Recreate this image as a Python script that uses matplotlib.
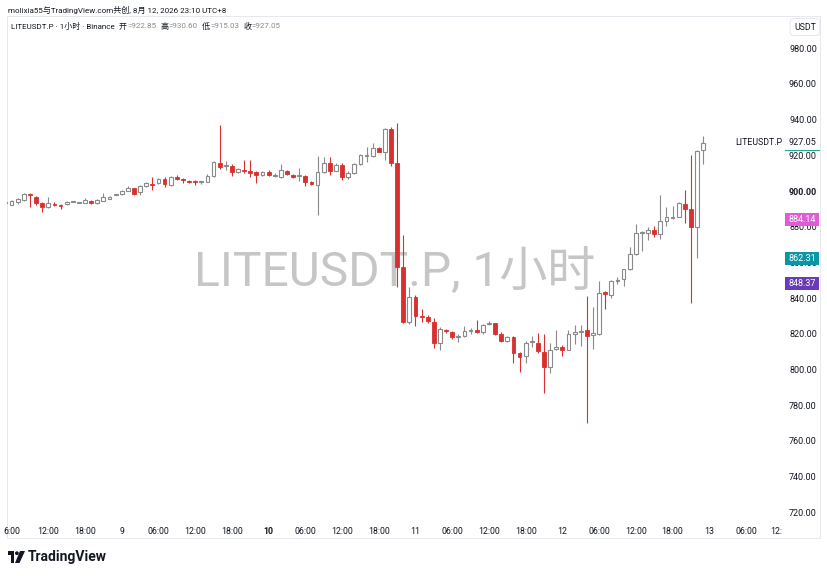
import numpy as np
import matplotlib
matplotlib.use('Agg')
import matplotlib.pyplot as plt
from matplotlib.patches import Rectangle, Polygon, Circle
from matplotlib.transforms import blended_transform_factory

plt.rcParams['font.family'] = ['Roboto', 'Noto Sans CJK SC', 'DejaVu Sans']

# hourly candles, 8th 05:00 .. 12th 23:00 (hour index counted from 8th 00:00)
hours = np.arange(5, 120)

opens = [
    893.2, 892.4, 893.6, 895.0, 898.3, 896.8, 893.4, 890.9, 893.0, 892.2,
    892.7, 893.9, 893.3, 893.4, 894.4, 893.1, 894.6, 895.7, 898.0, 898.3,
    900.2, 901.5, 899.5, 902.8, 903.8, 904.3, 906.9, 903.4, 908.0, 906.6,
    905.6, 905.2, 904.9, 905.2, 908.4, 915.9, 914.2, 914.2, 910.8, 911.5,
    911.1, 910.4, 909.0, 910.8, 908.6, 908.0, 911.4, 909.0, 908.3, 908.4,
    905.2, 903.4, 910.8, 915.8, 911.4, 914.6, 907.7, 910.3, 915.1, 919.5,
    919.6, 923.9, 922.0, 934.6, 915.5, 857.6, 826.8, 840.8, 830.2, 829.6,
    826.8, 815.0, 822.4, 821.2, 818.2, 818.8, 821.6, 822.1, 821.0, 825.3,
    825.9, 819.7, 816.2, 818.4, 809.1, 807.6, 815.4, 815.0, 810.0, 801.6,
    811.3, 812.8, 811.0, 819.9, 821.3, 822.2, 819.3, 819.9, 843.3, 841.8,
    849.8, 850.5, 856.5, 864.7, 876.6, 876.6, 878.2, 875.8, 883.2, 885.1,
    885.6, 892.7, 889.8, 879.7, 922.85]
highs = [
    893.8, 894.9, 896.0, 899.0, 898.8, 897.5, 894.0, 896.5, 894.0, 892.6,
    894.5, 894.3, 893.9, 896.2, 894.8, 895.3, 898.7, 897.2, 898.6, 900.6,
    902.8, 901.9, 903.6, 904.8, 907.8, 907.3, 908.0, 908.5, 909.0, 907.5,
    906.2, 906.0, 905.4, 909.8, 917.0, 937.0, 916.7, 915.3, 912.8, 917.4,
    917.4, 911.0, 911.5, 912.0, 909.9, 915.1, 912.0, 909.6, 912.7, 908.8,
    905.5, 919.6, 918.9, 919.3, 915.6, 915.6, 911.5, 915.5, 921.0, 924.5,
    927.2, 924.8, 935.2, 936.0, 937.9, 875.4, 846.4, 841.5, 833.7, 830.5,
    828.7, 823.6, 822.9, 821.8, 820.1, 824.3, 823.5, 827.8, 825.6, 827.3,
    826.3, 821.0, 818.8, 818.8, 809.6, 815.8, 818.8, 820.6, 819.9, 815.0,
    822.2, 814.0, 822.2, 825.0, 825.0, 841.2, 835.2, 849.6, 843.8, 850.2,
    851.6, 856.6, 868.8, 881.3, 877.6, 880.0, 880.5, 897.8, 891.2, 891.8,
    893.6, 900.6, 920.2, 923.0, 930.6]
lows = [
    892.9, 892.0, 892.5, 894.5, 891.2, 892.0, 888.4, 890.5, 891.5, 889.7,
    892.4, 893.6, 893.1, 893.2, 892.8, 892.9, 894.3, 895.4, 897.6, 897.8,
    899.9, 897.8, 898.0, 902.5, 900.5, 904.0, 902.0, 903.0, 906.2, 904.3,
    904.6, 903.5, 904.0, 904.8, 908.0, 912.2, 912.0, 908.7, 910.3, 909.9,
    908.0, 904.3, 908.6, 908.5, 907.9, 907.5, 909.0, 907.5, 905.8, 902.8,
    903.3, 886.6, 910.3, 909.0, 911.0, 906.4, 907.0, 909.8, 914.6, 916.4,
    919.3, 921.6, 917.4, 914.0, 846.4, 826.0, 825.5, 824.4, 826.8, 826.3,
    811.9, 810.9, 820.6, 817.3, 815.4, 818.5, 820.0, 820.6, 820.2, 824.9,
    819.5, 815.5, 815.5, 803.5, 798.8, 803.8, 812.8, 809.5, 786.7, 797.9,
    811.0, 807.5, 810.7, 814.6, 813.2, 769.9, 811.3, 819.5, 833.9, 840.0,
    847.8, 846.8, 856.0, 864.3, 866.6, 872.7, 874.0, 873.3, 880.5, 884.6,
    885.2, 881.9, 837.4, 862.3, 915.03]
closes = [
    893.4, 894.2, 895.3, 898.3, 897.6, 893.4, 890.9, 893.1, 892.4, 891.9,
    894.0, 894.0, 893.5, 895.0, 893.1, 895.0, 896.5, 896.8, 898.3, 900.2,
    901.5, 898.3, 903.0, 904.3, 903.4, 906.7, 903.9, 908.0, 906.5, 906.2,
    905.0, 905.0, 905.1, 908.4, 916.4, 913.6, 914.6, 910.8, 912.3, 911.2,
    910.0, 909.0, 910.8, 909.0, 909.0, 911.8, 909.5, 908.0, 908.4, 905.2,
    903.9, 910.8, 915.8, 911.4, 914.6, 907.7, 910.3, 915.1, 920.2, 919.7,
    923.9, 922.0, 934.6, 915.5, 857.6, 826.8, 840.8, 830.0, 829.6, 827.4,
    815.0, 822.5, 821.5, 818.0, 818.4, 821.7, 821.8, 821.0, 825.0, 826.2,
    819.9, 816.2, 818.0, 809.4, 807.2, 815.0, 815.6, 810.6, 801.6, 811.0,
    812.8, 811.0, 819.9, 821.0, 821.6, 819.0, 820.3, 843.0, 842.2, 849.8,
    850.3, 856.1, 864.7, 876.6, 876.9, 878.2, 875.9, 883.2, 885.3, 885.5,
    893.1, 889.8, 879.7, 922.6, 927.05]

price_ticks = [720, 740, 760, 780, 800, 820, 840, 860, 880, 900, 920, 940, 960, 980]
time_ticks = [6, 12, 18, 24, 30, 36, 42, 48, 54, 60, 66, 72, 78, 84, 90, 96,
              102, 108, 114, 120, 126, 132]
time_labels = ['6:00', '12:00', '18:00', '9', '06:00', '12:00', '18:00', '10',
               '06:00', '12:00', '18:00', '11', '06:00', '12:00', '18:00', '12',
               '06:00', '12:00', '18:00', '13', '06:00', '12:']
marker_prices = [884.14, 862.31, 848.37]
marker_colors = ['#e15bd6', '#0a97a3', '#6a3bb8']
last_price = 927.05
ohlc_keys = ['开', '高', '低', '收']
ohlc_vals = ['=922.85', '=930.60', '=915.03', '=927.05']

RED = '#d9302f'
GREY = '#8a8a8a'
TXT = '#131722'

W, H = 828, 576
fig = plt.figure(figsize=(W / 100, H / 100), dpi=100, facecolor='white')


def px(x0, y0, x1, y1):
    return [x0 / W, 1 - y1 / H, (x1 - x0) / W, (y1 - y0) / H]


ov = fig.add_axes([0, 0, 1, 1], zorder=-1)
ov.set_xlim(0, W)
ov.set_ylim(H, 0)
ov.axis('off')

ax = fig.add_axes(px(7, 17, 785, 519))
ax.set_facecolor('none')

o = np.array(opens)
h = np.array(highs)
l = np.array(lows)
c = np.array(closes)
up = c >= o
bottom = np.minimum(o, c)
height = np.maximum(np.abs(c - o), 0.5)

ax.vlines(hours[up], l[up], h[up], color=GREY, lw=0.8, zorder=2)
ax.vlines(hours[~up], l[~up], h[~up], color=RED, lw=0.8, zorder=2)
ax.bar(hours[up], height[up], bottom=bottom[up], width=0.62, color='white',
       edgecolor=GREY, linewidth=0.8, zorder=3)
ax.bar(hours[~up], height[~up], bottom=bottom[~up], width=0.62, color=RED,
       edgecolor=RED, linewidth=0.6, zorder=3)

ax.set_xlim(5.25, 132.38)
ax.set_ylim(716.3, 997.5)
for s in ax.spines.values():
    s.set_visible(False)

ax.set_xticks(time_ticks)
ax.set_xticklabels(time_labels)
ax.tick_params(axis='x', length=0, pad=6, labelsize=6.3, labelcolor=TXT)
ax.get_xticklabels()[7].set_fontweight('bold')
ax.get_xticklabels()[-1].set_ha('right')

ax.yaxis.tick_right()
ax.set_yticks(price_ticks)
ax.set_yticklabels([f'{v:.2f}' for v in price_ticks])
ax.tick_params(axis='y', length=0, pad=23, labelsize=6.5, labelcolor=TXT)
for lab in ax.get_yticklabels():
    lab.set_ha('right')
    if lab.get_text() == '900.00':
        lab.set_fontweight('bold')

trans = blended_transform_factory(ax.transAxes, ax.transData)
for p, col in zip(marker_prices, marker_colors):
    ax.add_patch(Rectangle((1.0, p - 3.6), 0.0437, 7.2, transform=trans,
                           fc=col, ec='none', clip_on=False, zorder=5))
    ax.text(1.0219, p, f'{p:.2f}', transform=trans, ha='center', va='center',
            color='white', fontsize=6.5, clip_on=False, zorder=6)

ax.text(1.0219, last_price, f'{last_price:.2f}', transform=trans, ha='center',
        va='center', color=TXT, fontsize=6.5, clip_on=False, zorder=6)
ax.plot([1.0, 1.0437], [last_price - 4.0] * 2, transform=trans,
        color='#22ab94', lw=0.8, clip_on=False, zorder=6)
ax.text(0.996, last_price, 'LITEUSDT.P', transform=trans, ha='right',
        va='center', color=TXT, fontsize=6.3, zorder=6)

# watermark behind candles
ov.text(395, 272, 'LITEUSDT.P, 1小时', ha='center', va='center',
        fontsize=34.5, color='#c6c6c6')

# frame
ov.plot([7, 820, 820, 7, 7], [16, 16, 538, 538, 16], color='#e6e8ee', lw=0.7)

ov.text(805, 27, 'USDT', ha='center', va='center', fontsize=6.3, color=TXT,
        bbox=dict(boxstyle='round,pad=0.45', fc='white', ec='#e0e3eb', lw=0.6))

# header
ov.text(8, 10, 'molixia55与TradingView.com共创, 8月 12, 2026 23:10 UTC+8',
        ha='left', va='center', fontsize=5.8, color=TXT)

renderer = fig.canvas.get_renderer()


def chain(x, text, color, gap):
    t = ov.text(x, 26, text, ha='left', va='center', fontsize=5.8, color=color)
    bb = t.get_window_extent(renderer)
    return bb.x1 + gap


x = chain(11, 'LITEUSDT.P · 1小时 · Binance', TXT, 4)
for key, val in zip(ohlc_keys, ohlc_vals):
    x = chain(x, key, TXT, 0.5)
    x = chain(x, val, '#8a8a8a', 4)

# TradingView logo
ov.add_patch(Polygon([(8, 551), (14.5, 551), (14.5, 563), (11, 563), (11, 555), (8, 555)],
                     closed=True, fc=TXT, ec='none'))
ov.add_patch(Circle((16.9, 553.2), 1.9, fc=TXT, ec='none'))
ov.add_patch(Polygon([(20, 551), (25, 551), (19.5, 563), (15, 563)], closed=True,
                     fc=TXT, ec='none'))
ov.text(28, 557.5, 'TradingView', ha='left', va='center', fontsize=10,
        fontweight='bold', color=TXT)

fig.savefig('out.png', dpi=100, facecolor='white')
